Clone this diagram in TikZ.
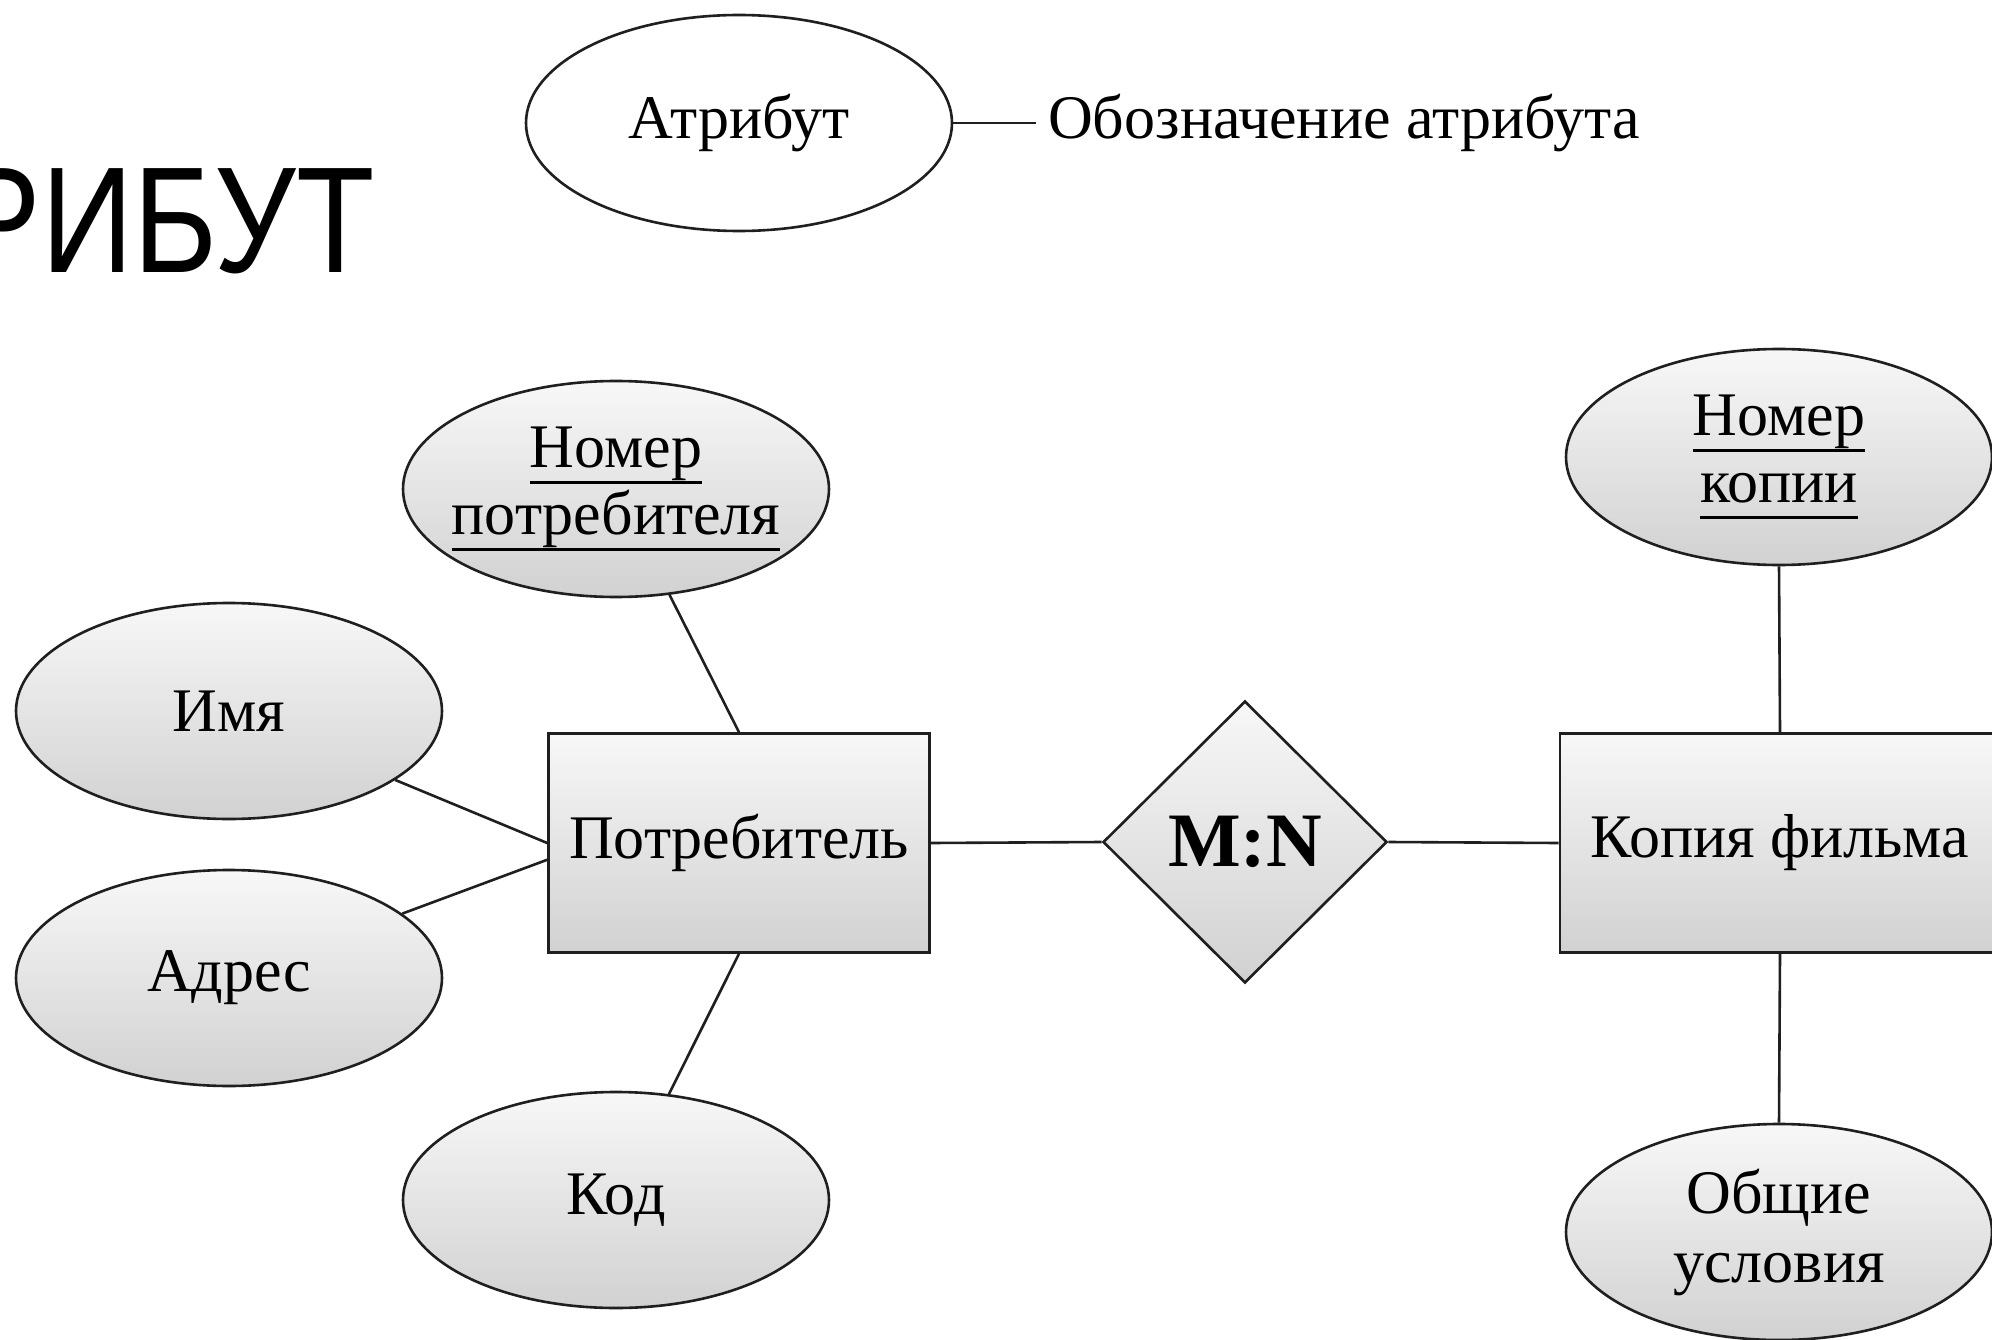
\documentclass[tikz,border=0pt]{standalone}
\usepackage{graphicx}
\usepackage{fontspec}
\setmainfont{Liberation Serif}
\newfontfamily\titlefont{Liberation Sans}
\usetikzlibrary{shapes.geometric}
\newcommand\keyul[1]{\setbox0\hbox{#1}\rlap{\vrule width \wd0 height -14pt depth 17pt}\box0}
\tikzset{
  linecol/.style={draw=black!88, line width=2.6pt},
  grayfill/.style={top color=white!97!black, bottom color=white!82!black},
  attrshape/.style={ellipse, linecol, grayfill, minimum width=426pt, minimum height=216pt, inner sep=0pt},
  plainattr/.style={ellipse, linecol, fill=white, minimum width=426pt, minimum height=216pt, inner sep=0pt},
  entity/.style={rectangle, linecol, grayfill, minimum height=219pt, inner sep=0pt},
  relation/.style={diamond, linecol, grayfill, minimum width=284pt, minimum height=282pt, inner sep=0pt},
  lbl/.style={font=\fontsize{62}{67}\selectfont, align=center, inner sep=0pt},
  conn/.style={linecol},
}
\begin{document}
\begin{tikzpicture}[x=1pt,y=-1pt]
\useasboundingbox (0,0) rectangle (1992,1340);
\clip (0,0) rectangle (1992,1340);
\fill[white] (0,0) rectangle (1992,1340);

% title (cut off at the left)
\node[anchor=base east, inner sep=0pt] (title) at (375,273)
  {\titlefont\fontsize{151}{151}\selectfont\scalebox{0.85}[1]{РИБУТ}};

% legend
\node[plainattr] (legattr) at (739,123) {};
\node[lbl] (legattrt) at (legattr.center) {Атрибут};
\node[lbl, anchor=west, inner sep=12pt] (legdesc) at (1036,123) {Обозначение атрибута};
\draw[conn] (legattr) -- (legdesc.west);

% entities and relation
\node[entity, minimum width=381pt] (cust) at (739,843) {};
\node[lbl] (custt) at (cust.center) {Потребитель};
\node[relation] (rel) at (1245,842) {};
\node[font=\fontsize{77}{80}\selectfont\bfseries, inner sep=0pt] (relt) at (rel.center) {M:N};
\node[entity, minimum width=440pt] (film) at (1780,843) {};
\node[lbl] (filmt) at (1780,843) {Копия фильма};

% attributes of the customer
\node[attrshape] (nomp) at (616,489) {};
\node[lbl] (nompt) at (nomp.center) {\keyul{Номер}\\\keyul{потребителя}};
\node[attrshape] (name) at (229,711) {};
\node[lbl] (namet) at (name.center) {Имя};
\node[attrshape] (addr) at (229,978) {};
\node[lbl] (addrt) at (addr.center) {Адрес};
\node[attrshape] (code) at (616,1200) {};
\node[lbl] (codet) at (code.center) {Код};

% attributes of the film copy
\node[attrshape] (nomk) at (1779,457) {};
\node[lbl] (nomkt) at (nomk.center) {\keyul{Номер}\\\keyul{копии}};
\node[attrshape] (cond) at (1779,1232) {};
\node[lbl, font=\fontsize{62}{69}\selectfont] (condt) at (cond.center) {Общие\\условия};

% connectors
\draw[conn] (nomp) -- (cust.north);
\draw[conn] (name) -- (cust.west);
\draw[conn] (addr) -- (cust.185);
\draw[conn] (code) -- (cust.south);
\draw[conn] (cust.east) -- (rel.west);
\draw[conn] (rel.east) -- (film.west);
\draw[conn] (film.north) -- (nomk.south);
\draw[conn] (film.south) -- (cond.north);
\end{tikzpicture}
\end{document}
